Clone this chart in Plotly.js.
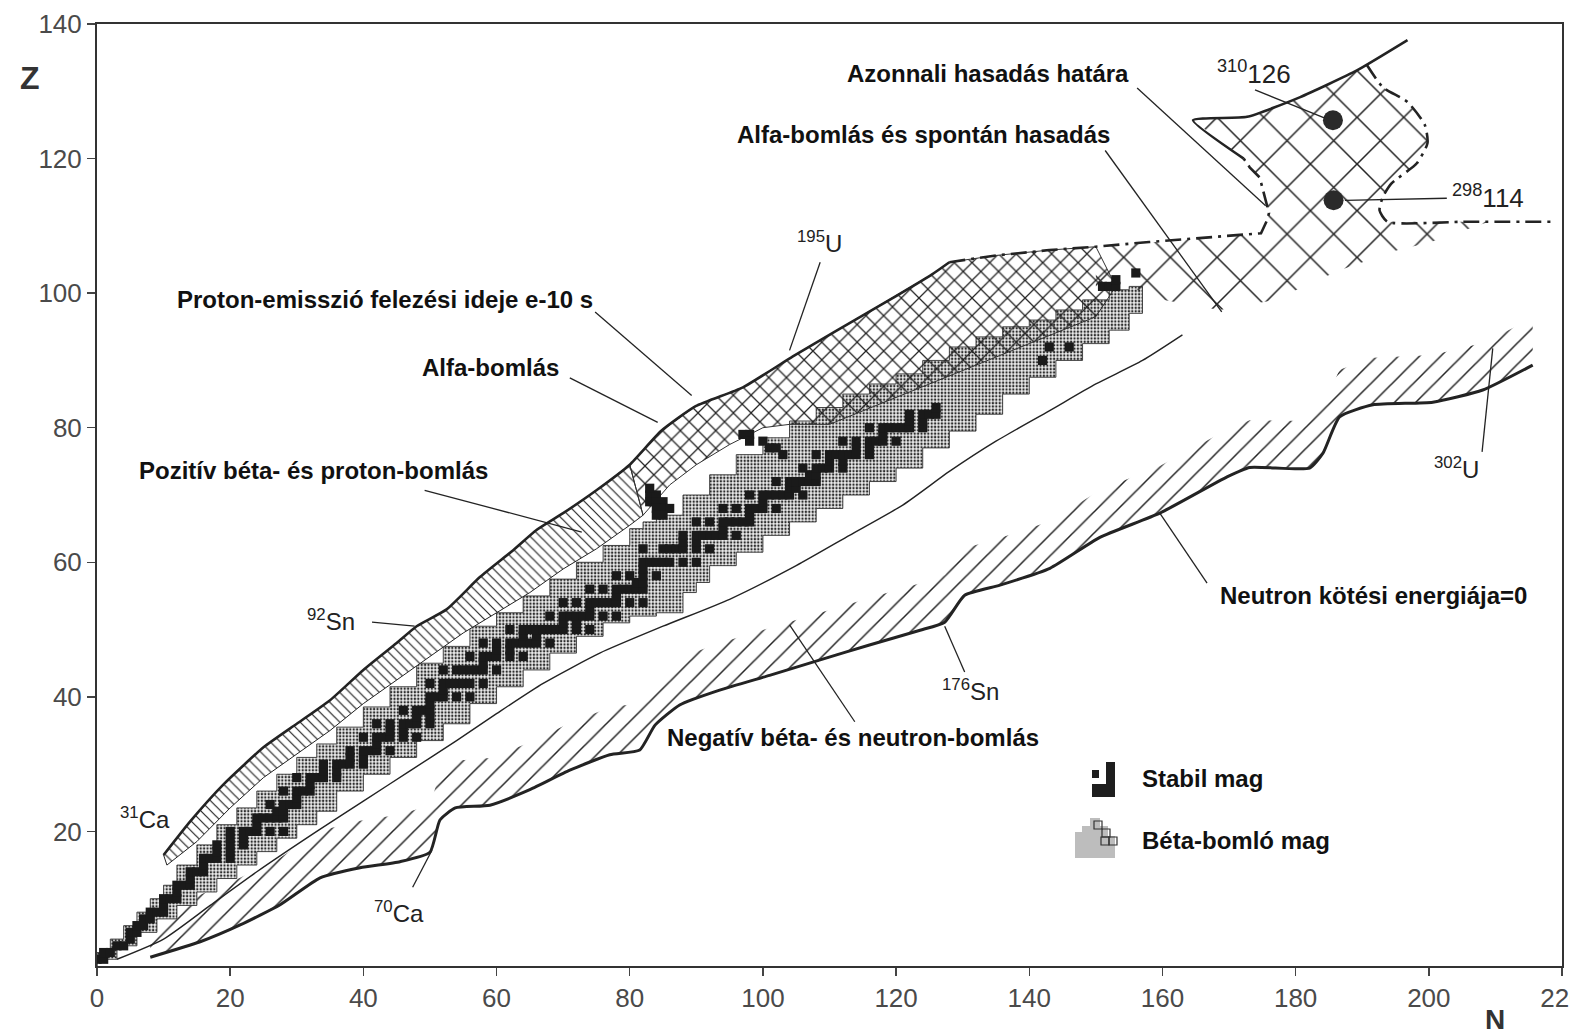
<!DOCTYPE html>
<html><head><meta charset="utf-8">
<script src="https://cdn.plot.ly/plotly-3.0.1.min.js"></script>
<style>html,body{margin:0;padding:0;background:#fff;}#chart{width:1570px;height:1034px;}</style>
</head><body><div id="chart"></div>
<script>
// ---------- axes ----------
const xTicks = [0,20,40,60,80,100,120,140,160,180,200,220];
const yTicks = [20,40,60,80,100,120,140];

// ---------- stable nuclei (Z and list of N) ----------
const stableZ = [1,2,3,4,5,6,7,8,9,10,11,12,13,14,15,16,17,18,19,20,21,22,23,24,25,26,27,28,29,30,31,32,33,34,35,36,37,38,39,40,41,42,44,45,46,47,48,49,50,51,52,53,54,55,56,57,58,59,60,62,63,64,65,66,67,68,69,70,71,72,73,74,75,76,77,78,79,80,81,82,83,90,92];
const stableNs = [[0,1],[1,2],[3,4],[5],[5,6],[6,7],[7,8],[8,9,10],[10],[10,11,12],[12],[12,13,14],[14],[14,15,16],[16],[16,17,18,20],[18,20],[18,20,22],[20,22],[20,22,23,24,26,28],[24],[24,25,26,27,28],[27,28],[26,28,29,30],[30],[28,30,31,32],[32],[30,32,33,34,36],[34,36],[34,36,37,38,40],[38,40],[38,40,41,42,44],[42],[40,42,43,44,46,48],[44,46],[42,44,46,47,48,50],[48,50],[46,48,49,50],[50],[50,51,52,54,56],[52],[50,52,53,54,55,56,58],[52,54,55,56,57,58,60],[58],[56,58,59,60,62,64],[60,62],[58,60,62,63,64,65,66,68],[64,66],[62,64,65,66,67,68,69,70,72,74],[70,72],[68,70,71,72,73,74,76,78],[74],[70,72,74,75,76,77,78,80,82],[78],[74,76,78,79,80,81,82],[81,82],[78,80,82,84],[82],[82,83,84,85,86,88,90],[82,85,86,87,88,90,92],[88,90],[88,90,91,92,93,94,96],[94],[90,92,94,95,96,97,98],[98],[94,96,98,99,100,102],[100],[98,100,101,102,103,104,106],[104,105],[102,104,105,106,107,108],[107,108],[106,108,109,110,112],[110,112],[108,110,111,112,113,114,116],[114,116],[112,114,116,117,118,120],[118],[116,118,119,120,121,122,124],[122,124],[122,124,125,126],[126],[142],[143,146]];
// extra black cells
const extraN = [83,84,83,84,85,84,85,86,84,85,83, 97,98,98,100,101,102,103, 151,152,153,153,156];
const extraZ = [70,70,69,69,69,68,68,68,67,67,71, 79,79,78,78,77,77,76, 101,101,101,102,103];

// ---------- beta-decaying region (staircase) ----------
const betaTopN = [0,2,4,6,8,10,12,15,18,21,24,27,30,33,36,40,44,48,52,56,60,64,68,72,76,80,82,84,88,92,96,100,104,108,112,116,120,124,128,132,136,140,144,148,152,155,157];
const betaTopZ = [2,4,6,8,10,12,15,18,21,23.5,26,28.5,31,33,35.5,38.5,41.5,45,47.5,50.5,52.5,55,57.5,60,62.5,65,66,67,70,73,76,78.5,81,83,85,86.5,88,90,92,93.5,95,96,97.5,99,100.5,101,101];
const betaBotN = [0,3,6,9,12,15,18,21,24,27,30,33,36,40,44,48,52,56,60,64,68,72,76,80,84,88,90,92,96,100,104,108,112,116,120,124,128,132,136,140,144,148,152,155,157];
const betaBotZ = [0,1,3,5,7,9,11,13,15,17,19,21,23,26,28.5,31,33.5,36,39,41.5,44,46.5,49,51,52,52.5,55.5,57,59.5,61.5,64,66,68,70,72,74,77,79.5,82,85,87.5,90,92.5,94.5,97];

// ---------- proton drip line (upper limit) ----------
const pDripN = [10,14,19,25,30,35,40,45,48,52.5,57.5,62.5,66,70,75,80,84.7,89.9,97,104.5,111,118.5,125.4,128];
const pDripZ = [16.5,21.5,27,32.5,36,39.5,44,48,50.5,53,57.8,61.8,64.8,67.3,70.7,74.5,79.5,83.2,86,90.6,94.4,98.7,102.8,104.6];
// lower edge of positive beta / proton band
const bandLowN = [10.5,15,20,25,30,35,40,45,50,55,60,65,70,75,80,82];
const bandLowZ = [15,18.5,23.5,28,31.5,35,39,42.5,46,49.5,52.5,55.5,59,62,65.5,67];
// lower edge of the alpha region
const alphaLowN = [82,86,90,95,100,104,110,120,130,140,150,153];
const alphaLowZ = [67,71.5,74.5,77.5,80,80.5,80.5,84.5,88.5,92.5,96.5,101];

// ---------- alpha + spontaneous fission / prompt fission limit ----------
const fisN = [128,135,143,150,158,165,172,174.8,175.7,176,174.6,173.1,172.2];
const fisZ = [104.6,105.6,106.4,106.9,107.6,108.1,108.7,108.9,110.8,111.9,117.2,118.7,120];
const islN = [172.2,164.6,172.7,180.6,189.2,196.8];
const islZ = [120,125.7,126.2,129.1,133.1,137.6];
const rimN = [190.7,193.1,196.8,199.4,199.8,198.2,194.4,193.1,192.6,193.8,205,218.5];
const rimZ = [133.9,130.6,128.4,125,122.3,119.3,116.3,114.3,112.3,110.6,110.6,110.6];
const sfLowN = [209,200,195.6,186.6,176.9,168.6,160,155,150];
const sfLowZ = [110.6,107.5,106.5,103.4,99,97.5,99,101,101];

// ---------- neutron-rich limit of known nuclei ----------
const thinN = [3,10,17,24,33,40,47,54,60,67,75.5,85,95,105,113,121,128,135,143,150,157,163];
const thinZ = [1,4,9,14,20,24.5,29,33.5,37.5,42,46.5,50.5,54.5,59.5,64,68.5,73.5,78,82.5,86.5,90,93.8];

// ---------- neutron drip line (neutron binding energy = 0) ----------
const nDripN = [8,15.5,21.5,27.5,33.5,39.5,45.5,50,51.5,53.8,59,65,71,77,81.5,83.8,87.5,93.5,101,108.6,116,123.6,127.3,130.3,135.6,143.1,150.6,159.6,169.7,173.1,182.1,184.1,186.6,191.6,200.6,208.1,215.6];
const nDripZ = [1.3,3.6,6.1,9.1,13.1,14.6,15.5,16.9,21.7,23.5,23.9,26.2,29.1,31.4,32.1,35.8,38.8,41,43.2,45.5,47.7,49.9,51.1,55.1,56.6,59.1,63.7,67.3,72.7,74.1,74,76.2,81.6,83.4,83.8,85.6,89.3];

// ---------- superheavy islands ----------
const shN = [185.6,185.7];
const shZ = [125.7,113.8];

// ---------- legend texts ----------
const legendTexts = ['Stabil mag','Béta-bomló mag'];

// ================= build =================
const stN = [], stZ = [];
stableZ.forEach((z,i)=>stableNs[i].forEach(n=>{stN.push(n);stZ.push(z);}));
extraN.forEach((n,i)=>{stN.push(n);stZ.push(extraZ[i]);});

const rev = a => a.slice().reverse();
const INK = '#232323';
const FONT = 'Liberation Sans, Arial, Helvetica, sans-serif';

const hatchX = nDripN.concat(rev(nDripN));
const hatchY = nDripZ.concat(rev(nDripZ.map(z=>z+7)));

const pIdx80 = pDripN.indexOf(80);
const bandX = pDripN.slice(0,pIdx80+1).concat(rev(bandLowN));
const bandY = pDripZ.slice(0,pIdx80+1).concat(rev(bandLowZ));

const alphaX = pDripN.slice(pIdx80).concat(fisN.slice(1,4)).concat(rev(alphaLowN));
const alphaY = pDripZ.slice(pIdx80).concat(fisZ.slice(1,4)).concat(rev(alphaLowZ));

const sfX = fisN.slice(3).concat(islN.slice(1,5)).concat(rimN.slice(0,10)).concat(sfLowN).concat([fisN[3]]);
const sfY = fisZ.slice(3).concat(islZ.slice(1,5)).concat(rimZ.slice(0,10)).concat(sfLowZ).concat([fisZ[3]]);

const traces = [
  {x:hatchX,y:hatchY,mode:'lines',fill:'toself',line:{width:0},hoverinfo:'skip',
   fillcolor:'rgba(0,0,0,0)',fillpattern:{shape:'/',size:15,solidity:0.1,fgcolor:INK,bgcolor:'rgba(0,0,0,0)',fillmode:'replace'}},
  {x:betaTopN.concat(rev(betaBotN)).concat([betaTopN[0]]),y:betaTopZ.concat(rev(betaBotZ)).concat([betaTopZ[0]]),
   mode:'lines',fill:'toself',line:{width:0.9,color:'#333',shape:'hv'},hoverinfo:'skip',
   fillcolor:'#e6e6e6',fillpattern:{shape:'.',size:3.4,solidity:0.38,fgcolor:'#2e2e2e',bgcolor:'#ececec',fillmode:'replace'}},
  {x:bandX.concat([bandX[0]]),y:bandY.concat([bandY[0]]),mode:'lines',fill:'toself',line:{width:1,color:INK},hoverinfo:'skip',
   fillcolor:'#fff',fillpattern:{shape:'\\',size:7,solidity:0.17,fgcolor:INK,bgcolor:'#ffffff',fillmode:'replace'}},
  {x:alphaX.concat([alphaX[0]]),y:alphaY.concat([alphaY[0]]),mode:'lines',fill:'toself',line:{width:1,color:'#333'},hoverinfo:'skip',
   fillcolor:'rgba(0,0,0,0)',fillpattern:{shape:'x',size:12.5,solidity:0.19,fgcolor:INK,bgcolor:'rgba(0,0,0,0)',fillmode:'replace'}},
  {x:sfX,y:sfY,mode:'lines',fill:'toself',line:{width:0},hoverinfo:'skip',
   fillcolor:'rgba(0,0,0,0)',fillpattern:{shape:'x',size:33,solidity:0.09,fgcolor:INK,bgcolor:'rgba(0,0,0,0)',fillmode:'replace'}},
  {x:stN,y:stZ,mode:'markers',hoverinfo:'skip',
   marker:{symbol:'square',size:9.2,color:'#1a1a1a',line:{width:0}}},
  {x:thinN,y:thinZ,mode:'lines',line:{width:1.4,color:INK,shape:'spline',smoothing:0.6},hoverinfo:'skip'},
  {x:nDripN,y:nDripZ,mode:'lines',line:{width:3,color:INK,shape:'spline',smoothing:0.5},hoverinfo:'skip'},
  {x:pDripN,y:pDripZ,mode:'lines',line:{width:2.6,color:INK,shape:'spline',smoothing:0.5},hoverinfo:'skip'},
  {x:fisN,y:fisZ,mode:'lines',line:{width:2.6,color:INK,dash:'16px,6px,3px,6px'},hoverinfo:'skip'},
  {x:islN,y:islZ,mode:'lines',line:{width:2.6,color:INK,shape:'spline',smoothing:0.5},hoverinfo:'skip'},
  {x:rimN,y:rimZ,mode:'lines',line:{width:2.6,color:INK,dash:'16px,6px,3px,6px',shape:'spline',smoothing:0.6},hoverinfo:'skip'},
  {x:shN,y:shZ,mode:'markers',marker:{symbol:'circle',size:20,color:'#2a2a2a'},hoverinfo:'skip'}
];

const boldLbl = (t,x,y)=>({text:t,x:x,y:y,xref:'x',yref:'y',xanchor:'left',yanchor:'middle',showarrow:false,
  font:{family:FONT,size:24,color:'#111',weight:'bold'}});
const isoLbl = (t,x,y,s)=>({text:t,x:x,y:y,xref:'x',yref:'y',xanchor:'left',yanchor:'middle',showarrow:false,
  font:{family:FONT,size:s||24,color:'#222'}});
// pixel helpers for the legend block (layout only)
const PX = p=>(p-97)/1465, PY = p=>(966-p)/942;

const annotations = [
  boldLbl('Azonnali hasadás határa',112.3,132.7),
  boldLbl('Alfa-bomlás és spontán hasadás',95.8,123.6),
  boldLbl('Proton-emisszió felezési ideje e-10 s',11.7,99),
  boldLbl('Alfa-bomlás',48.5,89),
  boldLbl('Pozitív béta- és proton-bomlás',6,73.6),
  boldLbl('Neutron kötési energiája=0',168.3,55.1),
  boldLbl('Negatív béta- és neutron-bomlás',85.3,34),
  isoLbl('<sup>31</sup>Ca',3.2,22),
  isoLbl('<sup>70</sup>Ca',41.3,8),
  isoLbl('<sup>92</sup>Sn',31.2,51.4),
  isoLbl('<sup>195</sup>U',104.8,107.6),
  isoLbl('<sup>176</sup>Sn',126.6,41),
  isoLbl('<sup>302</sup>U',200.5,74),
  isoLbl('<sup>310</sup>126',167.9,132.8,26),
  isoLbl('<sup>298</sup>114',203.2,114.4,26),
  {text:legendTexts[0],xref:'paper',yref:'paper',x:PX(1140),y:PY(778),xanchor:'left',yanchor:'middle',showarrow:false,
   font:{family:FONT,size:24,color:'#111',weight:'bold'}},
  {text:legendTexts[1],xref:'paper',yref:'paper',x:PX(1140),y:PY(840),xanchor:'left',yanchor:'middle',showarrow:false,
   font:{family:FONT,size:24,color:'#111',weight:'bold'}},
  {text:'Z',xref:'paper',yref:'paper',x:-0.0457,y:0.9427,xanchor:'center',yanchor:'middle',showarrow:false,
   font:{family:FONT,size:32,color:'#333',weight:'bold'}},
  {text:'N',xref:'paper',yref:'paper',x:0.954,y:-0.0573,xanchor:'center',yanchor:'middle',showarrow:false,
   font:{family:FONT,size:28,color:'#333',weight:'bold'}}
];

const seg = (x0,y0,x1,y1)=>({type:'line',xref:'x',yref:'y',x0:x0,y0:y0,x1:x1,y1:y1,line:{color:INK,width:1.3}});
const pxPath = pts => 'M' + pts.map(p=>PX(p[0]).toFixed(5)+','+PY(p[1]).toFixed(5)).join('L') + 'Z';
const pRect = (x0,y0,x1,y1,fill,lw)=>({type:'rect',xref:'paper',yref:'paper',x0:PX(x0),x1:PX(x1),y0:PY(y0),y1:PY(y1),
  fillcolor:fill,line:{color:'#333',width:lw}});
const shapes = [
  seg(156.2,130.5,175.5,113),
  seg(151.4,121.2,168.9,97.2),
  seg(74.8,97.2,89.3,84.8),
  seg(71,87.4,84.2,80.8),
  seg(49.2,70.7,72.8,64.5),
  seg(166.7,56.9,159.6,67.3),
  seg(113.8,36.3,104,50.7),
  seg(47.4,11.7,50.3,17.2),
  seg(41.3,51.1,47.7,50.5),
  seg(108.6,104.6,104,91.5),
  seg(130.3,43.7,127.3,50.5),
  seg(208,76.4,209.6,91.8),
  seg(173.9,130.2,184.4,126),
  seg(187.4,113.8,202.7,114.1),
  // legend icon: stable
  pRect(1092,770,1099,778,'#1e1e1e',0),
  {type:'path',xref:'paper',yref:'paper',path:pxPath([[1106,762],[1115,762],[1115,797],[1092,797],[1092,784],[1106,784]]),
   fillcolor:'#1e1e1e',line:{width:0}},
  // legend icon: beta-decaying
  {type:'path',xref:'paper',yref:'paper',
   path:pxPath([[1075,858],[1075,832],[1082,832],[1082,826],[1090,826],[1090,818],[1100,818],[1100,826],[1108,826],[1108,836],[1115,836],[1115,858]]),
   fillcolor:'#bdbdbd',line:{width:0}},
  pRect(1094,821,1102,829,'rgba(0,0,0,0)',1.2),
  pRect(1102,829,1110,837,'rgba(0,0,0,0)',1.2),
  pRect(1109,837,1117,845,'rgba(0,0,0,0)',1.2),
  pRect(1101,837,1109,845,'rgba(0,0,0,0)',1.2)
];

const axisCommon = {showgrid:false,zeroline:false,showline:true,linecolor:'#333',linewidth:2,mirror:true,
  ticks:'outside',ticklen:8,tickwidth:1.5,tickcolor:'#444',ticklabeloverflow:'allow',
  tickfont:{family:FONT,size:26,color:'#4a4a4a'}};

const layout = {
  width:1570,height:1034,
  margin:{l:97,r:8,t:24,b:68},
  paper_bgcolor:'#ffffff',plot_bgcolor:'#ffffff',
  xaxis:Object.assign({},axisCommon,{range:[0,220],tickvals:xTicks,ticktext:xTicks.map(String)}),
  yaxis:Object.assign({},axisCommon,{range:[0,140],tickvals:yTicks,ticktext:yTicks.map(String)}),
  showlegend:false,
  annotations:annotations,
  shapes:shapes
};

Plotly.newPlot('chart',traces,layout,{displayModeBar:false,staticPlot:true});
</script></body></html>
